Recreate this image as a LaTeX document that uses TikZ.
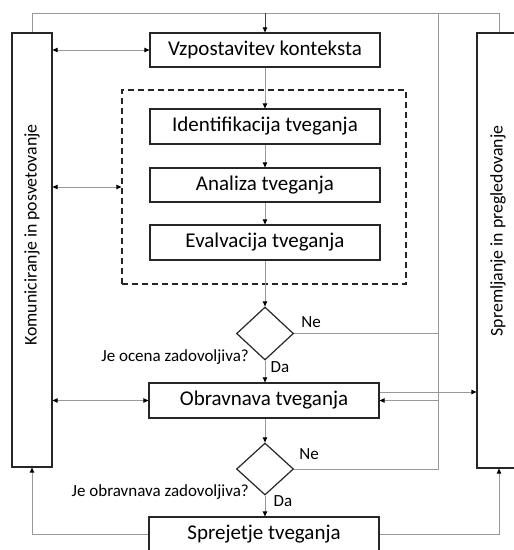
\documentclass[tikz,border=0pt]{standalone}
\usepackage{fontspec}
\setmainfont{Carlito}
\usetikzlibrary{arrows.meta,shapes.geometric}
\begin{document}
\begin{tikzpicture}[x=1pt,y=-1pt,
  box/.style={draw=black!85, line width=1.2pt, minimum width=230pt, minimum height=35pt, inner sep=0pt, fill=white, font=\fontsize{21}{24}\selectfont},
  side/.style={draw=black!85, line width=1.2pt, inner sep=0pt, fill=white},
  sidetxt/.style={rotate=90, inner sep=0pt, font=\fontsize{17.8}{20}\selectfont},
  dia/.style={draw=black!85, line width=1.2pt, diamond, inner sep=0pt, minimum width=57pt, minimum height=53pt, fill=white},
  lab/.style={inner sep=0pt, font=\fontsize{17}{19}\selectfont},
  ln/.style={draw=black!40, line width=0.8pt},
  tip/.style={-{Triangle[length=5pt,width=4.5pt,color=black,fill=black]}},
  dtip/.style={{Triangle[length=5pt,width=4.5pt,color=black,fill=black]}-{Triangle[length=5pt,width=4.5pt,color=black,fill=black]}}
]
\useasboundingbox (0,0) rectangle (514,550);

% side boxes
\node[side, minimum width=40pt, minimum height=434pt] (L) at (32,250) {};
\node[sidetxt] (Ltxt) at (32,235) {Komuniciranje in posvetovanje};
\node[side, minimum width=44pt, minimum height=435pt] (R) at (499,250.5) {};
\node[sidetxt] (Rtxt) at (498,231) {Spremljanje in pregledovanje};

% dashed frame
\node[draw=black!85, line width=1.2pt, dash pattern=on 6pt off 4pt, minimum width=284pt, minimum height=194pt, inner sep=0pt] (D) at (264,187) {};

% main boxes
\node[box, minimum height=34pt] (V) at (265,50) {Vzpostavitev konteksta};
\node[box] (I) at (265,126.5) {Identifikacija tveganja};
\node[box, minimum height=34pt] (A) at (265,185) {Analiza tveganja};
\node[box] (E) at (265,242.5) {Evalvacija tveganja};
\node[dia] (D1) at (265,333.5) {};
\node[box] (O) at (264,400.5) {Obravnava tveganja};
\node[dia, minimum height=52pt] (D2) at (265,469) {};
\node[box] (S) at (264,534.5) {Sprejetje tveganja};

% labels
\node[lab] (ne1) at (311,322) {Ne};
\node[lab, anchor=east] (q1) at (249,357) {Je ocena zadovoljiva?};
\node[lab] (da1) at (280,367) {Da};
\node[lab] (ne2) at (309,454) {Ne};
\node[lab, anchor=east] (q2) at (249,492) {Je obravnava zadovoljiva?};
\node[lab] (da2) at (283,501) {Da};

% helper coordinates
\coordinate (topL) at (32,13);
\coordinate (topR) at (499,13);
\coordinate (topM) at (265,13);
\coordinate (fbT) at (438,13);

% top loop
\draw[ln] (L.north) -- (topL) -- (topR) -- (R.north);
\draw[ln, draw=black!75, tip] (topM) -- (V.north);

% main flow
\draw[ln, tip] (V.south) -- (I.north);
\draw[ln, tip] (I.south) -- (A.north);
\draw[ln, tip] (A.south) -- (E.north);
\draw[ln, tip] (E.south) -- (D1.north);
\draw[ln, tip] (D1.south) -- (D1.south |- O.north);
\draw[ln, tip] (O.south -| D2.north) -- (D2.north);
\draw[ln, tip] (D2.south) -- (D2.south |- S.north);

% feedback
\draw[ln] (fbT) -- (fbT |- D2.east) -- (D2.east);
\draw[ln] (D1.east) -- (D1.east -| fbT);
\draw[ln, tip] (fbT |- O.east) -- (O.east);
\draw[ln, tip] ([yshift=8.5pt]O.east) -- ([yshift=8.5pt]O.east -| R.west);

% communication arrows
\draw[ln, dtip] (L.east |- V.west) -- (V.west);
\draw[ln, dtip] (L.east |- D.west) -- (D.west);
\draw[ln, dtip] (L.east |- O.west) -- (O.west);

% bottom returns
\draw[ln, tip] (S.west) -| (L.south);
\draw[ln, tip] (S.east) -| (R.south);
\end{tikzpicture}
\end{document}
